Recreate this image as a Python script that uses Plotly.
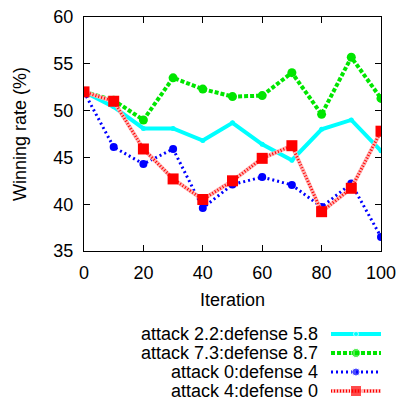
import plotly.graph_objects as go

iterations = [0, 10, 20, 30, 40, 50, 60, 70, 80, 90, 100]
cyan_vals = [52.0, 50.4, 48.1, 48.1, 46.8, 48.7, 46.4, 44.7, 48.0, 49.0, 45.7]
green_vals = [52.0, 51.1, 49.0, 53.5, 52.3, 51.5, 51.6, 54.05, 49.6, 55.7, 51.3]
blue_vals = [52.0, 46.1, 44.3, 45.9, 39.6, 42.1, 42.9, 42.05, 39.7, 42.2, 36.5]
red_vals = [52.0, 51.0, 45.9, 42.7, 40.5, 42.5, 44.9, 46.25, 39.2, 41.7, 47.8]
names = ["attack 2.2:defense 5.8", "attack 7.3:defense 8.7",
         "attack 0:defense 4", "attack 4:defense 0"]
x_ticks = [0, 20, 40, 60, 80, 100]
y_ticks = [35, 40, 45, 50, 55, 60]

FONT = "Liberation Sans, Arial, sans-serif"
FS = 18
W, H = 400, 400
PL, PR, PT, PB = 84, 381, 17, 251

styles = [
    dict(line=dict(color="#00ffff", width=4), marker=dict(color="#00ffff", size=5, symbol="circle")),
    dict(line=dict(color="#00e600", width=4, dash="4px,2px"), marker=dict(color="#00e600", size=9, symbol="circle")),
    dict(line=dict(color="#0000ff", width=3, dash="2px,3px"), marker=dict(color="#0000ff", size=8, symbol="circle")),
    dict(line=dict(color="#ff0000", width=3, dash="1px,2px"), marker=dict(color="#ff0000", size=11, symbol="square")),
]
series = [cyan_vals, green_vals, blue_vals, red_vals]
RED_BG = "#ffb4b4"

fig = go.Figure()
for i, (vals, st) in enumerate(zip(series, styles)):
    if i == 3:
        fig.add_trace(go.Scatter(x=iterations, y=vals, mode="lines",
                                 line=dict(color=RED_BG, width=4),
                                 showlegend=False, hoverinfo="skip"))
    fig.add_trace(go.Scatter(x=iterations, y=vals, mode="lines+markers",
                             line=st["line"], marker=st["marker"],
                             name=names[i], showlegend=False))

# custom legend (text right aligned, sample on the right)
row_y = [334, 353, 372, 391]
for i, st in enumerate(styles):
    xs = [331, 356, 381]
    ys = [row_y[i]] * 3
    if i == 3:
        fig.add_trace(go.Scatter(x=xs, y=ys, mode="lines", xaxis="x2", yaxis="y2",
                                 line=dict(color=RED_BG, width=4),
                                 showlegend=False, hoverinfo="skip"))
    fig.add_trace(go.Scatter(x=xs, y=ys, mode="lines+markers", xaxis="x2", yaxis="y2",
                             line=st["line"],
                             marker=dict(color=st["marker"]["color"], symbol=st["marker"]["symbol"],
                                         size=[0, st["marker"]["size"], 0]),
                             showlegend=False, hoverinfo="skip"))
    fig.add_annotation(x=320 / W, y=1 - row_y[i] / H, xref="paper", yref="paper",
                       text=names[i], showarrow=False, xanchor="right", yanchor="middle",
                       font=dict(family=FONT, size=FS, color="black"))

axis_common = dict(showline=True, linecolor="black", linewidth=1, mirror="ticks",
                   ticks="inside", ticklen=6, tickcolor="black", showgrid=False,
                   zeroline=False, automargin=False,
                   tickfont=dict(family=FONT, size=FS, color="black"))

fig.update_layout(
    width=W, height=H, margin=dict(l=0, r=0, t=0, b=0),
    paper_bgcolor="white", plot_bgcolor="rgba(0,0,0,0)",
    xaxis=dict(domain=[PL / W, PR / W], range=[0, 100], tickvals=x_ticks,
               title=dict(text="Iteration", font=dict(family=FONT, size=FS, color="black"), standoff=11),
               ticklabelstandoff=5, **axis_common),
    yaxis=dict(domain=[1 - PB / H, 1 - PT / H], range=[35, 60], tickvals=y_ticks,
               title=dict(text="Winning rate (%)", font=dict(family=FONT, size=FS, color="black"), standoff=22),
               ticklabelstandoff=6, **axis_common),
    xaxis2=dict(domain=[0, 1], range=[0, W], visible=False, anchor="y2", automargin=False),
    yaxis2=dict(domain=[0, 1], range=[H, 0], visible=False, anchor="x2", automargin=False),
    font=dict(family=FONT, color="black"),
)

fig.write_html("out.html")
